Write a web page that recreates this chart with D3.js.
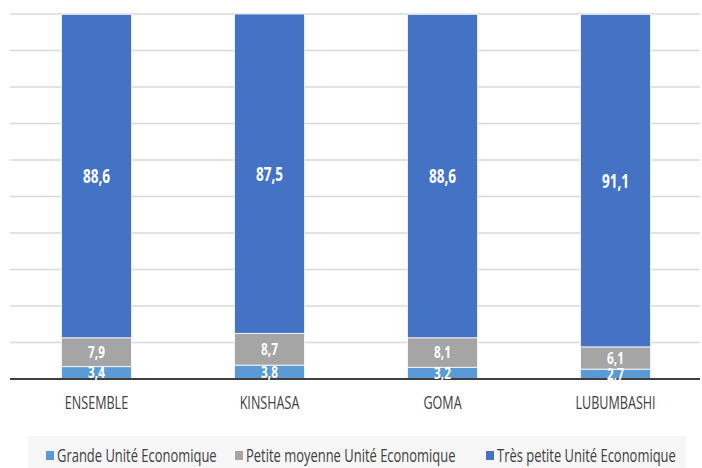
<!DOCTYPE html>
<html>
<head>
<meta charset="utf-8">
<script src="https://cdn.jsdelivr.net/npm/d3@7"></script>
<style>
  html, body { margin: 0; padding: 0; background: #fff; }
  svg text { font-family: "Open Sans", "Liberation Sans", sans-serif; }
</style>
</head>
<body>
<svg id="chart" width="702" height="468"></svg>
<script>
// Répartition des unités économiques par ville (%)
const categories = ["ENSEMBLE", "KINSHASA", "GOMA", "LUBUMBASHI"];
const seriesNames = ["Grande Unité Economique", "Petite moyenne Unité Economique", "Très petite Unité Economique"];
const grande = [3.4, 3.8, 3.2, 2.7];
const petiteMoyenne = [7.9, 8.7, 8.1, 6.1];
const tresPetite = [88.6, 87.5, 88.6, 91.1];
const yTicks = [0, 10, 20, 30, 40, 50, 60, 70, 80, 90, 100];

const colors = ["#5b9bd5", "#a5a5a5", "#4472c4"];
const fmt = v => String(v.toFixed(1)).replace(".", ",");

const svg = d3.select("#chart");
const margin = { left: 10, right: 0, top: 14, bottom: 89 };
const W = 702, H = 468;

const x = d3.scaleBand().domain(categories).range([margin.left, W - margin.right]).paddingInner(0.595).paddingOuter(0.2975);
const y = d3.scaleLinear().domain([0, 100]).range([H - margin.bottom, margin.top]);

const rows = categories.map((c, i) => ({ cat: c, s0: grande[i], s1: petiteMoyenne[i], s2: tresPetite[i] }));
const layers = d3.stack().keys(["s0", "s1", "s2"])(rows);

// horizontal gridlines
svg.append("g").selectAll("line").data(yTicks.filter(t => t > 0)).join("line")
  .attr("x1", 10).attr("x2", 700)
  .attr("y1", d => y(d)).attr("y2", d => y(d))
  .attr("stroke", "#d9d9d9").attr("stroke-width", 1.5);

// stacked bars
const gLayers = svg.append("g").selectAll("g").data(layers).join("g")
  .attr("fill", (d, i) => colors[i]);
gLayers.selectAll("rect").data(d => d).join("rect")
  .attr("x", d => x(d.data.cat))
  .attr("width", x.bandwidth())
  .attr("y", d => y(d[1]))
  .attr("height", d => y(d[0]) - y(d[1]))
  .attr("stroke", "#ffffff").attr("stroke-opacity", 0.8).attr("stroke-width", 1);

// x axis (labels condensed horizontally)
const xAxis = svg.append("g").attr("transform", `translate(0,${y(0)})`)
  .call(d3.axisBottom(x).tickSize(0).tickPadding(24));
xAxis.select(".domain").attr("stroke", "#404040").attr("stroke-width", 2).attr("d", `M10,0H700`);
xAxis.selectAll("text").attr("font-size", 18).attr("fill", "#404040")
  .style("font-family", '"Open Sans", "Liberation Sans", sans-serif')
  .attr("dy", "0.36em")
  .attr("transform", "scale(0.70,1)");

// value labels
layers.forEach((layer, li) => {
  const big = li === 2;
  svg.append("g").selectAll("text").data(layer).join("text")
    .attr("transform", d => `translate(${x(d.data.cat) + x.bandwidth() / 2},${(y(d[0]) + y(d[1])) / 2}) scale(${big ? 0.68 : 0.76},1)`)
    .attr("dy", "0.36em")
    .attr("text-anchor", "middle")
    .attr("fill", "#ffffff")
    .attr("font-weight", "bold")
    .attr("font-size", big ? 20 : 15.5)
    .text(d => fmt(d[1] - d[0]));
});

// legend
svg.append("rect").attr("x", 28).attr("y", 436).attr("width", 658).attr("height", 32).attr("fill", "#f6f6f6");
const legendX = [46, 235, 486];
const leg = svg.append("g").selectAll("g").data(seriesNames).join("g")
  .attr("transform", (d, i) => `translate(${legendX[i]},456)`);
leg.append("rect").attr("x", 0).attr("y", -5).attr("width", 8).attr("height", 9)
  .attr("fill", (d, i) => colors[i]);
leg.append("text").attr("transform", "translate(11,0) scale(0.72,1)").attr("dy", "0.36em")
  .attr("font-size", 18).attr("fill", "#404040").text(d => d);
</script>
</body>
</html>
